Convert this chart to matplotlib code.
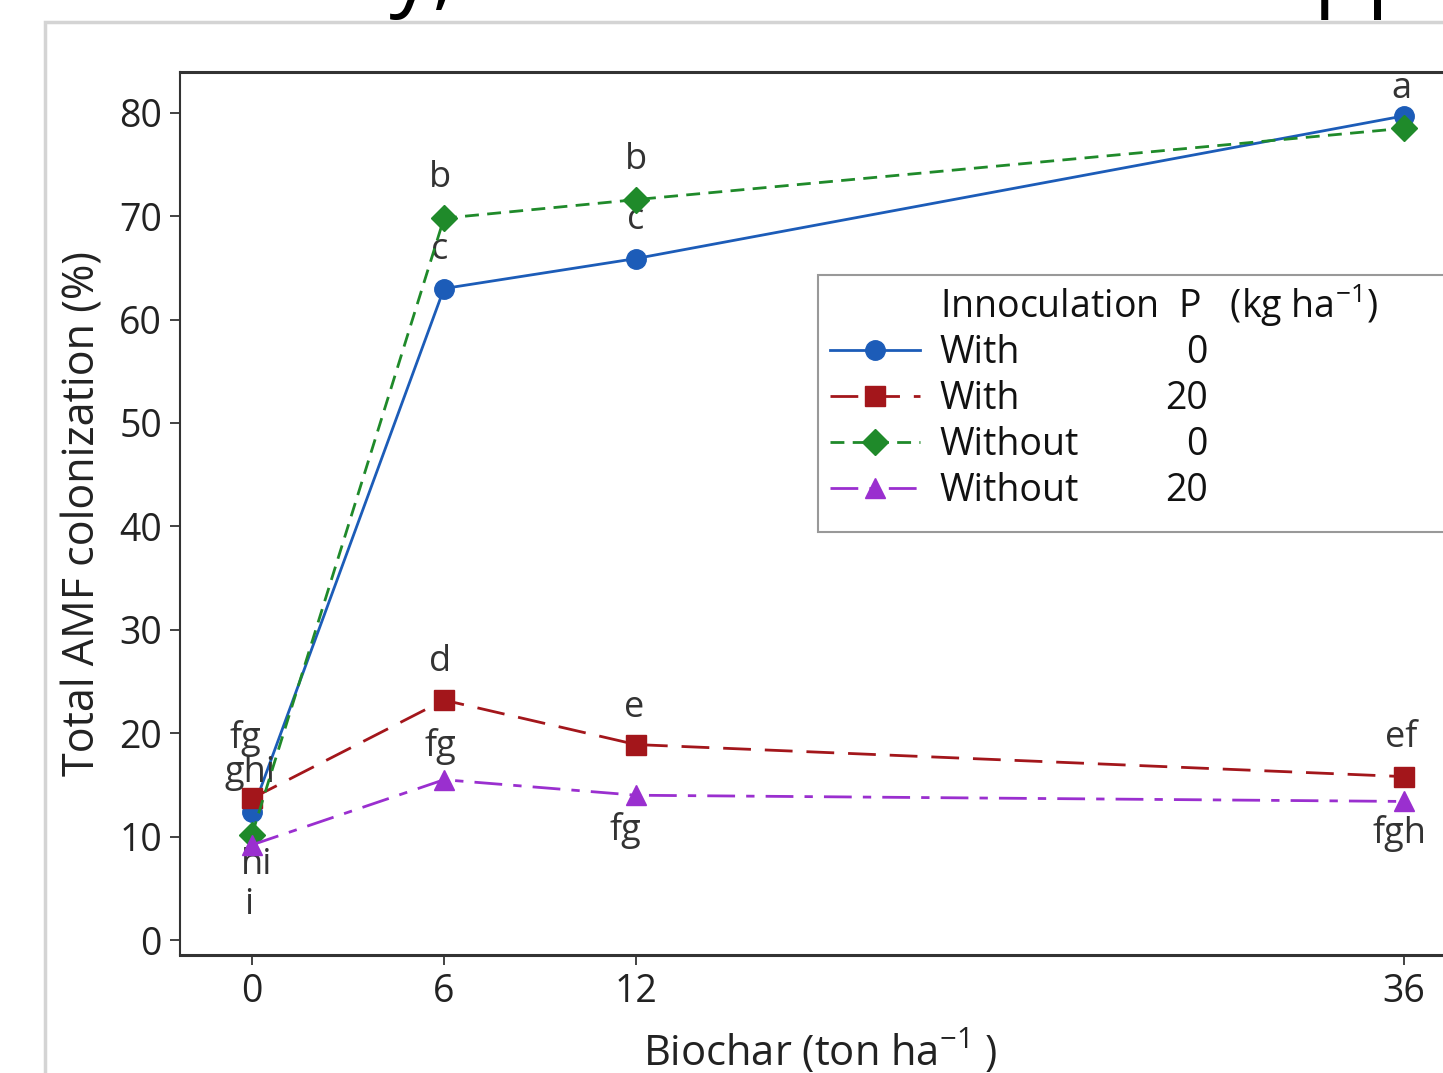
import numpy as np
import matplotlib
matplotlib.use("Agg")
import matplotlib.pyplot as plt
from matplotlib.patches import Rectangle

plt.rcParams['font.family'] = ['Open Sans', 'DejaVu Sans']
plt.rcParams['mathtext.default'] = 'regular'

# biochar rates (ton/ha)
biochar = [0, 6, 12, 36]

# total AMF colonization (%) per treatment
with_p0 = [12.4, 63.0, 65.9, 79.7]
with_p20 = [13.7, 23.2, 18.9, 15.8]
without_p0 = [10.2, 69.8, 71.6, 78.5]
without_p20 = [9.2, 15.5, 14.0, 13.4]

# significance letters
let_with_p0 = ['ghi', 'c', 'c', 'a']
let_with_p20 = ['fg', 'd', 'e', 'ef']
let_without_p0 = ['hi', 'b', 'b', '']
let_without_p20 = ['i', 'fg', 'fg', 'fgh']

inoc = ['With', 'With', 'Without', 'Without']
p_rate = ['0', '20', '0', '20']

W, H = 1443, 1073
fig = plt.figure(figsize=(W / 100, H / 100), dpi=100)

# chart box on the slide
fig.patches.append(Rectangle((45 / W, -0.1), 1.2, 1.1 - 22 / H, transform=fig.transFigure,
                             facecolor='white', edgecolor='#d4d4d4', lw=2.5, zorder=-1))

# slide title, mostly cut off at the top
fig.text(14 / W, 1 + 0.5 / H, 'Absolutely, but declined with P applied',
         fontsize=62, color='black', va='baseline', ha='left', zorder=1)

ax = fig.add_axes([180 / W, (H - 955) / H, (1463 - 180) / W, (955 - 72) / H])
ax.set_xlim(-2.25, 37.84)
ax.set_ylim(-1.45, 83.94)

series = [
    (with_p0, let_with_p0, '#1c5cb8', 'o', '-', None,
     [(-2, 39), (-4, 39), (0, 39), (-3, 27)]),
    (with_p20, let_with_p20, '#a3161b', 's', '--', (10, 5),
     [(-7, 60), (-4, 38), (-2, 37), (-3, 39)]),
    (without_p0, let_without_p0, '#1f8a2a', 'D', '--', (5, 3),
     [(5, -30), (-4, 40), (0, 40), (0, 0)]),
    (without_p20, let_without_p20, '#9a2fcf', '^', '-.', (10, 4, 3, 4),
     [(-3, -60), (-4, 33), (-11, -35), (-5, -32)]),
]

handles = []
for vals, lets, col, mk, ls, dash, offs in series:
    line, = ax.plot(biochar, vals, color=col, marker=mk, linestyle=ls, lw=2.0,
                    markersize=14 if mk != 'D' else 13, clip_on=False, zorder=3)
    if dash is not None:
        line.set_dashes(dash)
    handles.append(line)
    for x, y, t, (dx, dy) in zip(biochar, vals, lets, offs):
        if t:
            ax.annotate(t, (x, y), xytext=(dx, dy), textcoords='offset pixels',
                        ha='center', va='center', fontsize=26, color='#333333')

ax.set_xticks(biochar)
ax.set_yticks(np.arange(0, 81, 10))
ax.tick_params(axis='both', labelsize=27, colors='#222222', length=7, width=1.2,
               direction='out', pad=6)
for s in ['top', 'right', 'bottom', 'left']:
    ax.spines[s].set_color('#333333')
    ax.spines[s].set_linewidth(2.2)
ax.spines['left'].set_linewidth(1.5)

ax.set_xlabel('Biochar (ton ha$^{-1}$ )', fontsize=30, color='#222222')
ax.set_ylabel('Total AMF colonization (%)', fontsize=31, color='#222222', labelpad=10)
ax.xaxis.set_label_coords((820 - 180) / (1463 - 180), -(1028 - 955) / (955 - 72))

# legend box
ax.add_patch(Rectangle((818 / W, (H - 532) / H), 1.0, (532 - 275) / H,
                       transform=fig.transFigure, facecolor='white', clip_on=False,
                       edgecolor='#999999', lw=1.5, zorder=5))
leg = ax.legend(handles, inoc, loc='upper left', frameon=False,
                bbox_to_anchor=(830 / W, (H - 334) / H), bbox_transform=fig.transFigure,
                fontsize=27, handlelength=2.4, handletextpad=0.53, labelspacing=0.21,
                borderpad=0.0, borderaxespad=0.0)
leg.set_zorder(6)
for t in leg.get_texts():
    t.set_color('#111111')

fig.canvas.draw()
inv = fig.transFigure.inverted()
texts = leg.get_texts()
x0 = texts[0].get_window_extent().x0
for t, p in zip(texts, p_rate):
    bb = t.get_window_extent()
    xf, yf = inv.transform((1208, (bb.y0 + bb.y1) / 2))
    fig.text(xf, yf, p, ha='right', va='center', fontsize=27, color='#111111', zorder=7)
bb0 = texts[0].get_window_extent()
xf, yf = inv.transform((x0, (bb0.y0 + bb0.y1) / 2 + 48))
fig.text(xf, yf, 'Innoculation  P   (kg ha$^{-1}$)', ha='left', va='center',
         fontsize=27, color='#111111', zorder=7)

fig.savefig('out.png', dpi=100)
